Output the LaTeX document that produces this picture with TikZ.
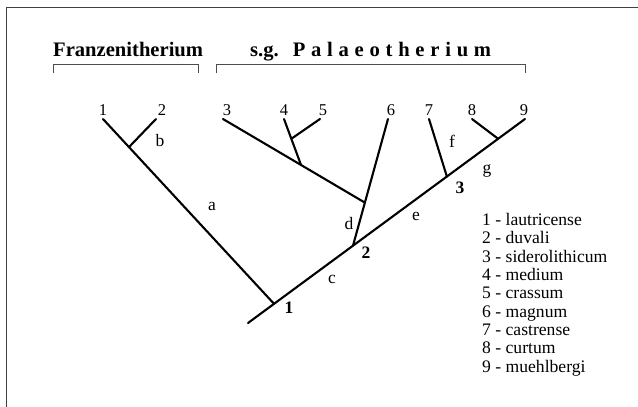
\documentclass[tikz,border=0pt]{standalone}
\usepackage{fontspec}
\setmainfont{Liberation Serif}
\usetikzlibrary{calc}
\begin{document}
\begin{tikzpicture}[x=1pt,y=-1pt,
  branch/.style={line width=2.1pt,line cap=round},
  frameline/.style={line width=1.4pt,draw=black!75},
  bracket/.style={line width=0.9pt,draw=black!70},
  tiplab/.style={font=\fontsize{16.5}{16.5}\selectfont,anchor=base,inner sep=0pt},
  brlab/.style={font=\fontsize{17.5}{17.5}\selectfont,inner sep=0pt},
  nodelab/.style={font=\fontsize{17.5}{17.5}\selectfont\bfseries,inner sep=0pt},
  head/.style={font=\fontsize{20.6}{20.6}\selectfont\bfseries,anchor=base west,inner sep=0pt},
  legend/.style={font=\fontsize{17.6}{18.3}\selectfont,anchor=base west,inner sep=0pt,align=left}]
\useasboundingbox (0,0) rectangle (638,407);
% frame
\coordinate (fl) at (6.5,407);
\coordinate (ftl) at (6.5,7.5);
\coordinate (fr) at (638,7.5);
\draw[frameline] (fl) -- (ftl) -- (fr);
% headers
\node[head] (hf) at (53,56.5) {Franzenitherium};
\newcommand\lsp{\kern5.75pt}
\node[head] (hp) at (250,56.5) {s.g.\kern14pt P\lsp a\lsp l\lsp a\lsp e\lsp o\lsp t\lsp h\lsp e\lsp r\lsp i\lsp u\lsp m};
% brackets
\coordinate (bf1) at (53,73); \coordinate (bf2) at (53,64.5);
\coordinate (bf3) at (198,64.5); \coordinate (bf4) at (198,73);
\draw[bracket] (bf1) -- (bf2) -- (bf3) -- (bf4);
\coordinate (bp1) at (216,73); \coordinate (bp2) at (216,64.5);
\coordinate (bp3) at (525,64.5); \coordinate (bp4) at (525,73);
\draw[bracket] (bp1) -- (bp2) -- (bp3) -- (bp4);
% tree coordinates
\coordinate (root) at (248,323);
\coordinate (t9) at (525,119);
\coordinate (n1) at ($(root)!0.094!(t9)$);
\coordinate (n2) at ($(root)!0.379!(t9)$);
\coordinate (n3) at ($(root)!0.718!(t9)$);
\coordinate (n89) at ($(root)!0.903!(t9)$);
\coordinate (t8) at (472,119);
\coordinate (t7) at (429,119);
\coordinate (t6) at (388,119);
\coordinate (j36) at ($(n2)!0.34!(t6)$);
\coordinate (t3) at (223,119);
\coordinate (j45) at ($(t3)!0.55!(j36)$);
\coordinate (t4) at (284,119);
\coordinate (n45) at ($(t4)!0.43!(j45)$);
\coordinate (t5) at (320,119);
\coordinate (t1) at (103,119);
\coordinate (n12) at ($(t1)!0.152!(n1)$);
\coordinate (t2) at (156,119);
% branches
\draw[branch] (root) -- (t9);
\draw[branch] (n89) -- (t8);
\draw[branch] (n3) -- (t7);
\draw[branch] (n2) -- (t6);
\draw[branch] (j36) -- (t3);
\draw[branch] (j45) -- (t4);
\draw[branch] (n45) -- (t5);
\draw[branch] (n1) -- (t1);
\draw[branch] (n12) -- (t2);
% tip labels
\node[tiplab] (l1) at (103,115) {1};
\node[tiplab] (l2) at (162,115) {2};
\node[tiplab] (l3) at (227,115) {3};
\node[tiplab] (l4) at (284,115) {4};
\node[tiplab] (l5) at (323,115) {5};
\node[tiplab] (l6) at (391,115) {6};
\node[tiplab] (l7) at (429,115) {7};
\node[tiplab] (l8) at (472,115) {8};
\node[tiplab] (l9) at (524,115) {9};
% branch labels
\node[brlab] (la) at (212,206) {a};
\node[brlab] (lb) at (160,141) {b};
\node[brlab] (lc) at (332,279) {c};
\node[brlab] (ld) at (349,224) {d};
\node[brlab] (le) at (416,216) {e};
\node[brlab] (lf) at (452,141) {f};
\node[brlab] (lg) at (487,171) {g};
% node labels
\node[nodelab] (k1) at (289,308) {1};
\node[nodelab] (k2) at (366,253) {2};
\node[nodelab] (k3) at (460,188) {3};
% legend
\node[legend] (leg) at (482,372) {1 - lautricense\\2 - duvali\\3 - siderolithicum\\4 - medium\\5 - crassum\\6 - magnum\\7 - castrense\\8 - curtum\\9 - muehlbergi};
\end{tikzpicture}
\end{document}
